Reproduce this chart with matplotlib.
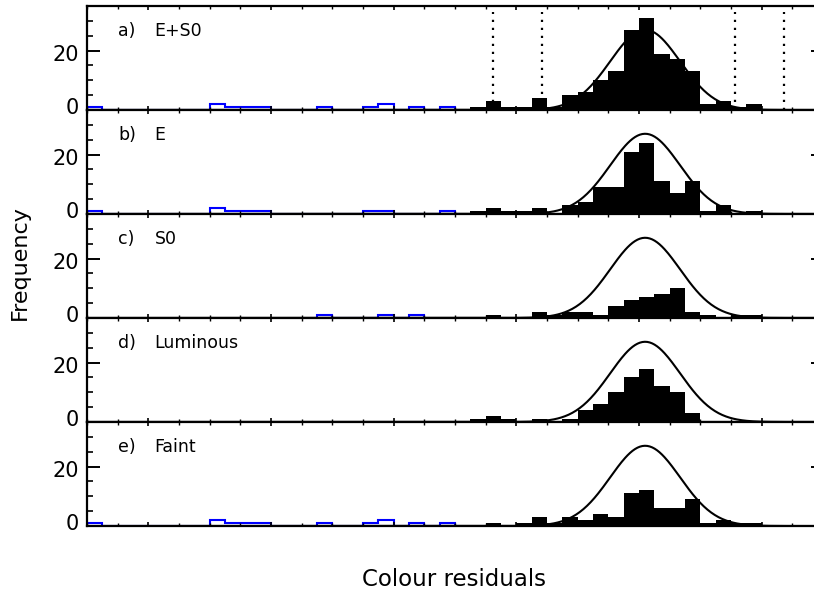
import numpy as np
import matplotlib.pyplot as plt
from matplotlib.ticker import MultipleLocator, FixedLocator
from matplotlib.transforms import ScaledTranslation

# bins (colour residual), width 0.025
binWidth = 0.025
blackStart = -0.3  # filled histogram covers -0.3 .. 0.3

labels = ["a)  E+S0", "b)  E", "c)  S0", "d)  Luminous", "e)  Faint"]

# filled histogram counts, bins starting at -0.3
black_a = [0, 1, 3, 1, 1, 4, 1, 5, 6, 10, 13, 27, 31, 19, 17, 13, 2, 3, 1, 2, 0, 0, 0, 0]
black_b = [0, 1, 2, 1, 1, 2, 0, 3, 4, 9, 9, 21, 24, 11, 7, 11, 1, 3, 0, 1, 0, 0, 0, 0]
black_c = [0, 0, 1, 0, 0, 2, 1, 2, 2, 1, 4, 6, 7, 8, 10, 2, 1, 0, 1, 1, 0, 0, 0, 0]
black_d = [0, 1, 2, 1, 0, 1, 0, 1, 4, 6, 10, 15, 18, 12, 10, 3, 0, 0, 0, 0, 0, 0, 0, 0]
black_e = [0, 0, 1, 0, 1, 3, 1, 3, 2, 4, 3, 11, 12, 6, 6, 9, 1, 2, 1, 1, 0, 0, 0, 0]

# blue outline histogram counts
blue_a = [1, 0, 0, 0, 0, 0, 0, 0, 2, 1, 1, 1, 0, 0, 0, 1, 0, 0, 1, 2, 0, 1, 0, 1]
blue_b = [1, 0, 0, 0, 0, 0, 0, 0, 2, 1, 1, 1, 0, 0, 0, 0, 0, 0, 1, 1, 0, 0, 0, 1]
blue_c = [1, 0, 0, 0, 1, 0, 1]
blue_e = [1, 0, 0, 0, 0, 0, 0, 0, 2, 1, 1, 1, 0, 0, 0, 1, 0, 0, 1, 2, 0, 1, 0, 1]
blueStarts = [-0.9, -0.9, -0.525, None, -0.9]

# gaussian fit
gaussAmp = 27.0
gaussMean = 0.01
gaussSigma = 0.057

# dotted cuts in panel a
cuts = [-0.238, -0.158, 0.157, 0.236]

blacks = [black_a, black_b, black_c, black_d, black_e]
blues = [blue_a, blue_b, blue_c, None, blue_e]

W, H = 814, 601
fig = plt.figure(figsize=(W / 100, H / 100), dpi=100)

left, right = 87, 823
top, bottom = 6, 526
panelH = (bottom - top) / 5

xg = np.linspace(-0.9, 0.3, 600)
yg = gaussAmp * np.exp(-0.5 * ((xg - gaussMean) / gaussSigma) ** 2)

for i in range(5):
    y0 = top + i * panelH
    ax = fig.add_axes([left / W, 1 - (y0 + panelH) / H, (right - left) / W, panelH / H])
    ax.set_xlim(-0.9, 0.3)
    ax.set_ylim(0, 35)

    vals = blacks[i]
    edges = blackStart + binWidth * np.arange(len(vals) + 1)
    ax.stairs(vals, edges, fill=True, color='black', linewidth=0)

    if blues[i] is not None:
        bv = blues[i]
        be = blueStarts[i] + binWidth * np.arange(len(bv) + 1)
        ax.stairs(bv, be, color='blue', linewidth=1.5, baseline=0)

    ax.plot(xg, yg, color='black', linewidth=1.5)

    if i == 0:
        for c in cuts:
            ax.plot([c, c], [0, 33], color='black', linewidth=1.6, linestyle=(0, (1, 2.6)))

    tag, name = labels[i].split()
    ax.text(0.042, 0.755, tag, transform=ax.transAxes, fontsize=12.5, va='center')
    ax.text(0.092, 0.755, name, transform=ax.transAxes, fontsize=12.5, va='center')

    ax.xaxis.set_major_locator(MultipleLocator(0.2))
    ax.xaxis.set_minor_locator(MultipleLocator(0.05))
    ax.yaxis.set_major_locator(FixedLocator([0, 20]))
    ax.yaxis.set_minor_locator(MultipleLocator(5))
    ax.tick_params(axis='x', which='both', direction='in', top=True, bottom=True, labelbottom=False)
    ax.tick_params(axis='x', which='major', length=3, width=1.2)
    ax.tick_params(axis='x', which='minor', length=2, width=1.0)
    ax.tick_params(axis='y', which='both', direction='in', left=True, right=True, labelsize=15)
    ax.tick_params(axis='y', which='major', length=9, width=1.4, pad=6)
    ax.tick_params(axis='y', which='minor', length=4.5, width=1.2)
    ylabs = ax.get_yticklabels()
    ylabs[0].set_transform(ylabs[0].get_transform() + ScaledTranslation(0, 4 / 100, fig.dpi_scale_trans))
    ylabs[1].set_transform(ylabs[1].get_transform() + ScaledTranslation(0, -2 / 100, fig.dpi_scale_trans))
    for s in ax.spines.values():
        s.set_linewidth(1.6)

fig.text(20 / W, 1 - 263 / H, "Frequency", rotation=90, fontsize=16, ha='center', va='center')
fig.text(454 / W, 1 - 579 / H, "Colour residuals", fontsize=16.5, ha='center', va='center')

fig.savefig("out.png", dpi=100)
